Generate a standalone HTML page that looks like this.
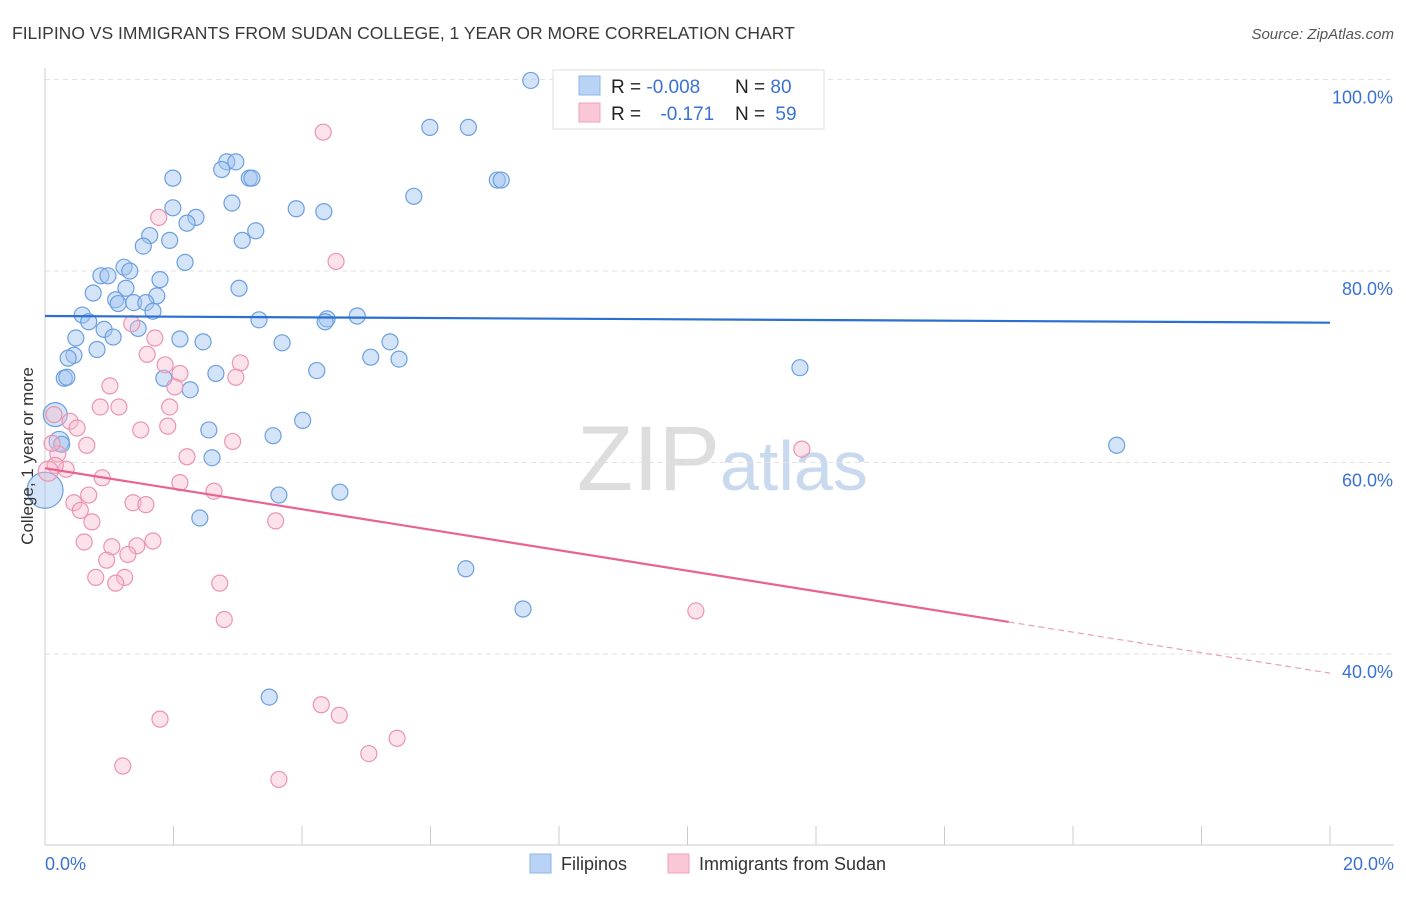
<!DOCTYPE html>
<html><head><meta charset="utf-8"><style>
body{margin:0;background:#fff;font-family:"Liberation Sans",sans-serif;}
svg text{font-family:"Liberation Sans",sans-serif;}
</style></head><body>
<svg id="chart" width="1406" height="892" xmlns="http://www.w3.org/2000/svg">
<text x="12" y="39" font-size="17.5" fill="#3a3a3a">FILIPINO VS IMMIGRANTS FROM SUDAN COLLEGE, 1 YEAR OR MORE CORRELATION CHART</text>
<text x="1394" y="39" font-size="15" fill="#555" text-anchor="end" font-style="italic">Source: ZipAtlas.com</text>
<text x="720" y="490" font-size="92" fill="#ddd" text-anchor="end" font-family="Liberation Serif">ZIP</text>
<text x="720" y="490" font-size="70" fill="#c9d9ee">atlas</text>
<g id="grid"></g>
<g id="axes"></g>
<g id="pts"></g>
<g id="lines"></g>
<text transform="translate(33,456) rotate(-90)" font-size="17" fill="#333" text-anchor="middle">College, 1 year or more</text>
<g>
<rect x="553" y="70" width="271" height="59" fill="#fff" stroke="#ddd"/>
<rect x="579" y="76" width="21" height="19" fill="#b9d3f5" stroke="#8db4ea"/>
<rect x="579" y="103" width="21" height="19" fill="#f9c7d6" stroke="#efa3bb"/>
<text x="611" y="93" font-size="19" fill="#222">R = <tspan fill="#3a72d4">-0.008</tspan></text>
<text x="735" y="93" font-size="19" fill="#222">N = <tspan fill="#3a72d4">80</tspan></text>
<text x="611" y="120" font-size="19" fill="#222">R = <tspan fill="#3a72d4" dx="14">-0.171</tspan></text>
<text x="735" y="120" font-size="19" fill="#222">N = <tspan fill="#3a72d4" dx="5">59</tspan></text>
</g>
<g>
<rect x="530" y="854" width="21" height="19" fill="#b9d3f5" stroke="#8db4ea"/>
<text x="561" y="870" font-size="18" fill="#333">Filipinos</text>
<rect x="668" y="854" width="21" height="19" fill="#f9c7d6" stroke="#efa3bb"/>
<text x="699" y="870" font-size="18" fill="#333">Immigrants from Sudan</text>
</g>
</svg>
<script>
const yTicks=[40,60,80,100];
const xTickLabels=["0.0%","20.0%"];
const blueX=[7.56,5.99,6.59,1.99,2.83,2.97,2.75,3.18,3.22,7.04,7.10,5.74,2.91,1.99,3.91,4.34,2.35,2.21,3.28,1.63,3.07,1.53,1.94,2.18,1.23,0.87,0.98,1.32,1.79,0.75,1.26,3.02,1.74,1.10,1.14,1.38,1.57,1.68,0.58,0.68,3.33,4.39,4.36,4.86,0.92,1.45,0.48,1.06,2.10,2.46,5.37,0.81,0.45,0.36,3.69,5.07,5.51,4.23,11.75,0.30,0.34,1.85,2.66,2.26,0.16,4.01,2.55,3.55,0.22,0.26,16.68,2.60,3.64,4.59,0.0,2.41,6.55,7.44,3.49];
const blueY=[99.9,95.0,95.0,89.7,91.4,91.4,90.6,89.7,89.7,89.5,89.5,87.8,87.1,86.6,86.5,86.2,85.6,85.0,84.2,83.7,83.2,82.6,83.2,80.9,80.4,79.5,79.5,80.0,79.1,77.7,78.2,78.2,77.4,77.0,76.6,76.7,76.7,75.8,75.4,74.7,74.9,75.0,74.7,75.3,73.9,74.0,73.0,73.1,72.9,72.6,72.6,71.8,71.2,70.9,72.5,71.0,70.8,69.6,69.9,68.8,68.9,68.8,69.3,67.6,65.0,64.4,63.4,62.8,62.2,61.9,61.8,60.5,56.6,56.9,57.1,54.2,48.9,44.7,35.5];
const blueR=[8,8,8,8,8,8,8,8,8,8,8,8,8,8,8,8,8,8,8,8,8,8,8,8,8,8,8,8,8,8,8,8,8,8,8,8,8,8,8,8,8,8,8,8,8,8,8,8,8,8,8,8,8,8,8,8,8,8,8,8,8,8,8,8,12,8,8,8,10,8,8,8,8,8,18,8,8,8,8];
const pinkX=[4.33,1.77,4.53,1.35,1.59,1.71,1.87,2.10,2.02,3.04,2.97,1.01,0.86,1.15,1.94,0.14,0.39,0.50,1.49,1.91,2.92,0.65,11.78,0.20,2.21,0.33,0.16,2.10,0.89,2.63,0.68,0.45,0.55,0.73,1.37,1.57,3.59,0.61,1.04,1.43,1.68,1.29,0.96,0.79,1.24,1.10,2.72,10.13,2.79,1.79,4.30,4.58,5.48,5.04,1.21,3.64,0.05,0.11];
const pinkY=[94.5,85.6,81.0,74.5,71.3,73.0,70.2,69.3,67.9,70.4,68.9,68.0,65.8,65.8,65.8,65.0,64.3,63.6,63.4,63.8,62.2,61.8,61.4,60.9,60.6,59.3,59.7,57.9,58.4,57.0,56.6,55.8,55.0,53.8,55.8,55.6,53.9,51.7,51.2,51.3,51.8,50.4,49.8,48.0,48.0,47.4,47.4,44.5,43.6,33.2,34.7,33.6,31.2,29.6,28.3,26.9,59.1,62.0];
const pinkR=[8,8,8,8,8,8,8,8,8,8,8,8,8,8,8,8,8,8,8,8,8,8,8,8,8,8,8,8,8,8,8,8,8,8,8,8,8,8,8,8,8,8,8,8,8,8,8,8,8,8,8,8,8,8,8,8,10,8];
const blueLine=[75.3,74.6];
const pinkLine=[59.4,38.0];
const pinkSolidEnd=15.0;
const NS="http://www.w3.org/2000/svg";
const X0=45,X1=1330,Y100=79.5,PX20=191.5;
const sx=v=>X0+(v/20)*(X1-X0);
const sy=v=>Y100+(100-v)/20*PX20;
function mk(t,a,p){const e=document.createElementNS(NS,t);for(const k in a)e.setAttribute(k,a[k]);p.appendChild(e);return e;}
const grid=document.getElementById('grid'),axes=document.getElementById('axes'),pts=document.getElementById('pts'),lines=document.getElementById('lines');
yTicks.forEach(v=>{
 const l=mk('line',{x1:45,x2:1394,y1:sy(v),y2:sy(v),stroke:'#e2e2e2','stroke-dasharray':'5,4'},grid);
 
 
 const t=mk('text',{x:1393,y:sy(v)+24,'font-size':18,fill:'#3a72d4','text-anchor':'end'},grid);
 t.textContent=v.toFixed(1)+'%';
 
 
});
const ax=mk('line',{x1:45,x2:45,y1:68,y2:845,stroke:'#ccc'},axes);


const bx=mk('line',{x1:45,x2:1394,y1:845,y2:845,stroke:'#ccc'},axes);


for(let i=0;i<=10;i++){
 const tk=mk('line',{x1:sx(i*2),x2:sx(i*2),y1:826,y2:845,stroke:'#ccc'},axes);
 
 
}
[[0,'start',45],[20,'end',1394]].forEach((d,i)=>{
 const t=mk('text',{x:d[2],y:870,'font-size':18,fill:'#3a72d4','text-anchor':d[1]},axes);
 t.textContent=xTickLabels[i];
 
 
});
blueX.forEach((v,i)=>{
 const c=mk('circle',{cx:sx(v),cy:sy(blueY[i]),r:blueR[i],fill:'rgba(160,195,240,0.45)',stroke:'#6d9fe0','stroke-width':1.2},pts);
 
 
});
pinkX.forEach((v,i)=>{
 const c=mk('circle',{cx:sx(v),cy:sy(pinkY[i]),r:pinkR[i],fill:'rgba(248,185,205,0.4)',stroke:'#eb94b0','stroke-width':1.2},pts);
 
 
});
const bl=mk('line',{x1:sx(0),y1:sy(blueLine[0]),x2:sx(20),y2:sy(blueLine[1]),stroke:'#2a6fd1','stroke-width':2.2},lines);


const pAt=x=>pinkLine[0]+(pinkLine[1]-pinkLine[0])*x/20;
const pl=mk('line',{x1:sx(0),y1:sy(pAt(0)),x2:sx(pinkSolidEnd),y2:sy(pAt(pinkSolidEnd)),stroke:'#e8648f','stroke-width':2.2},lines);


const pd=mk('line',{x1:sx(pinkSolidEnd),y1:sy(pAt(pinkSolidEnd)),x2:sx(20),y2:sy(pAt(20)),stroke:'#e8a0b8','stroke-width':1.2,'stroke-dasharray':'6,4'},lines);


</script>
</body></html>
